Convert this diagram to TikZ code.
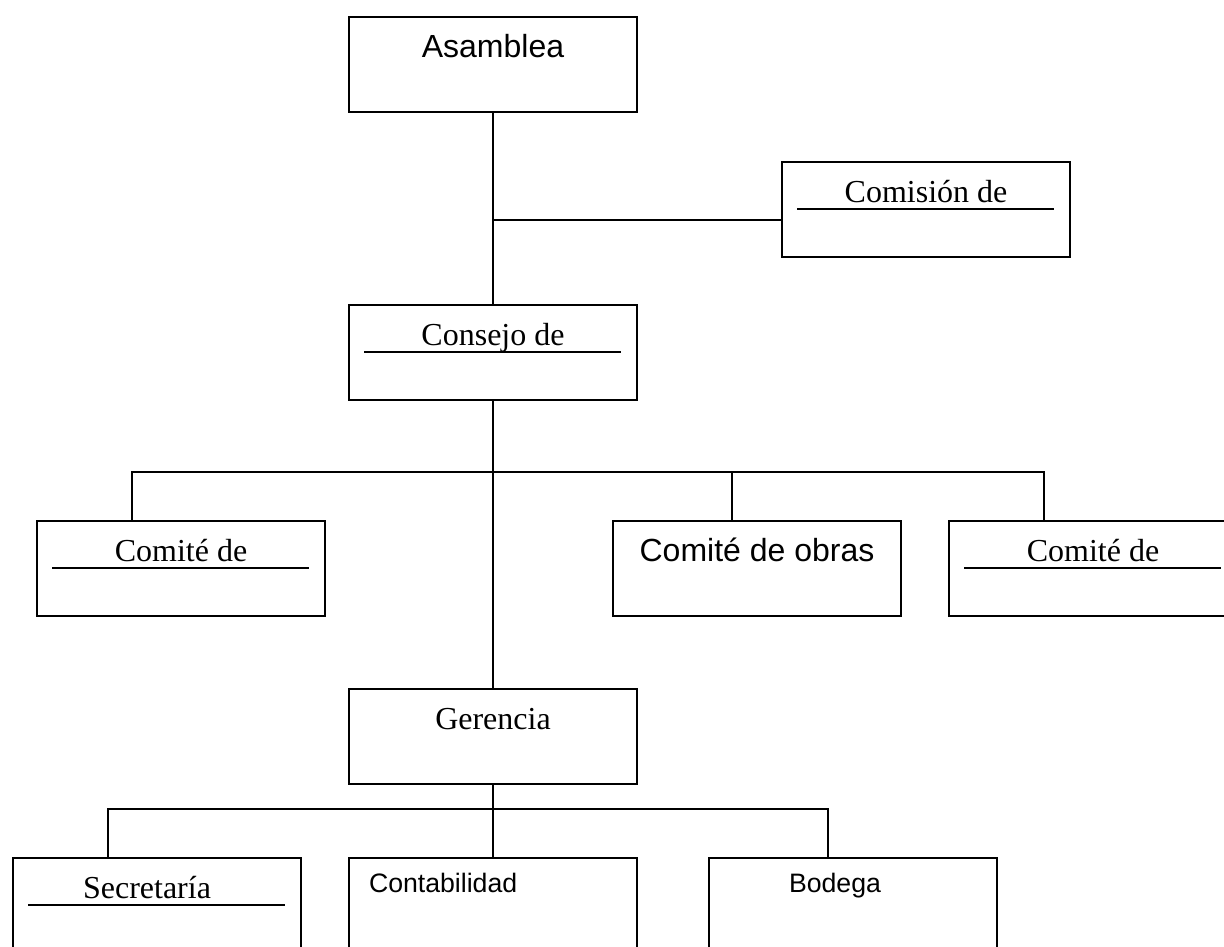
\documentclass[tikz,border=0pt]{standalone}
\usepackage{fontspec}
\setmainfont{Liberation Serif}
\setsansfont{Liberation Sans}
\usetikzlibrary{calc}

\tikzset{
  caja/.style={draw, line width=1.5pt, anchor=north west, minimum width=216pt, minimum height=71.25pt,
    inner sep=0pt, text height=30pt, text depth=41.25pt, font=\fontsize{24}{28}\selectfont},
  sans/.style={font=\sffamily\fontsize{24}{28}\selectfont},
  sanschica/.style={font=\sffamily\fontsize{20}{24}\selectfont, text height=26pt, text depth=45.25pt, align=left},
  linea/.style={line width=1.4pt},
  raya/.style={line width=1.9pt},
}

\begin{document}
\begin{tikzpicture}[x=0.75pt,y=0.75pt,yscale=-1,xscale=1]
  \clip (0,0) rectangle (1224,946);
  \fill[white] (0,0) rectangle (1224,946);

  \node[caja,sans] (asamblea) at (348,16) {Asamblea};
  \node[caja] (comision) at (781,161) {Comisión de};
  \node[caja] (consejo) at (348,304) {Consejo de};
  \node[caja] (comiteA) at (36,520) {Comité de};
  \node[caja,sans] (obras) at (612,520) {Comité de obras};
  \node[caja] (comiteB) at (948,520) {Comité de};
  \node[caja] (gerencia) at (348,688) {Gerencia};
  \node[caja] (secretaria) at (12,857) {Secretaría\hspace*{15pt}};
  \node[caja,sanschica,text width=186pt,inner xsep=15pt] (contabilidad) at (348,857) {Contabilidad};
  \node[caja,sanschica,text width=96pt,inner xsep=60pt] (bodega) at (708,857) {Bodega};

  \foreach \n in {comision,consejo,comiteA,comiteB,secretaria}
    \draw[raya] ($(\n.north west)+(16,48)$) -- ($(\n.north east)+(-17,48)$);

  \coordinate (nudo1) at (492,220);
  \coordinate (rama1) at (132,472);
  \coordinate (rama2) at (732,472);
  \coordinate (rama3) at (1044,472);
  \coordinate (rama4) at (108,809);
  \coordinate (rama5) at (828,809);

  \draw[linea] (asamblea.south) -- (consejo.north);
  \draw[linea] (nudo1) -- (nudo1 -| comision.west);
  \draw[linea] (consejo.south) -- (gerencia.north);
  \draw[linea] (rama1 |- comiteA.north) -- (rama1) -- (rama3) -- (rama3 |- comiteB.north);
  \draw[linea] (rama2) -- (rama2 |- obras.north);
  \draw[linea] (gerencia.south) -- (gerencia.south |- contabilidad.north);
  \draw[linea] (rama4 |- secretaria.north) -- (rama4) -- (rama5) -- (rama5 |- bodega.north);
\end{tikzpicture}
\end{document}
